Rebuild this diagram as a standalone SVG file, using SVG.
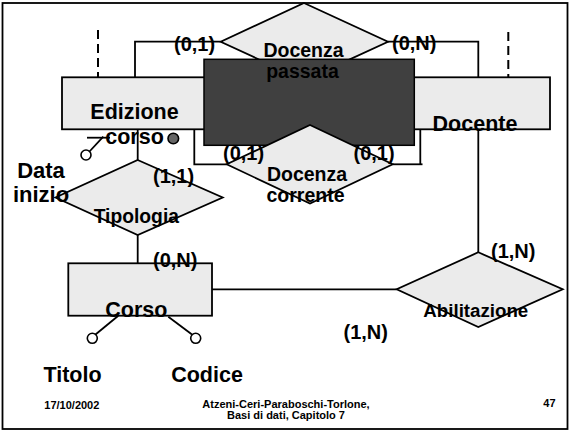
<svg xmlns="http://www.w3.org/2000/svg" width="573" height="432" viewBox="0 0 573 432">
<style>
.t{font-family:"Liberation Sans",Arial,sans-serif;font-weight:bold;fill:#000}
.c{text-anchor:middle}
.ent{fill:#ebebeb;stroke:#000;stroke-width:1.8}
.rel{fill:#ebebeb;stroke:#000;stroke-width:1.8}
.ln{fill:none;stroke:#000;stroke-width:1.8}
.dash{fill:none;stroke:#000;stroke-width:2;stroke-dasharray:9,5}
.att{fill:#fff;stroke:#000;stroke-width:1.6}
.key{fill:#666;stroke:#000;stroke-width:1.6}
.card{font-size:20px}
.big{font-size:21.5px}
.rl{font-size:19.5px}
.ft{font-size:11px}
</style>
<rect x="2.5" y="3" width="565" height="426" fill="#fff" stroke="#000" stroke-width="1.8"/>
<g id="connectors">
<polyline class="ln" points="220.7,41.7 135,41.7 135,77.3"/>
<polyline class="ln" points="388,41.7 478.3,41.7 478.3,77.3"/>
<line class="dash" x1="98" y1="30" x2="98" y2="77"/>
<line class="dash" x1="508.3" y1="32" x2="508.3" y2="77"/>
<polyline class="ln" points="226.7,164.3 194.3,164.3 194.3,129.3"/>
<polyline class="ln" points="392.7,164.3 422.5,164.3"/>
<line class="ln" x1="420.3" y1="129.3" x2="420.3" y2="164.3"/>
<line class="ln" x1="137.7" y1="129.3" x2="137.7" y2="160"/>
<line class="ln" x1="137.7" y1="235" x2="137.7" y2="263.3"/>
<line class="ln" x1="478.3" y1="129.3" x2="478.3" y2="252.3"/>
<line class="ln" x1="212" y1="289.3" x2="396.7" y2="289.3"/>
<line class="ln" x1="87" y1="137.7" x2="110" y2="137.7"/>
<line class="ln" x1="103.3" y1="136.7" x2="89.5" y2="151.5"/>
<line class="ln" x1="118.3" y1="315.7" x2="95.5" y2="334.5"/>
<line class="ln" x1="168.3" y1="316.7" x2="192" y2="334.5"/>
</g>
<g id="edizione_corso">
<rect class="ent" x="62" y="77.3" width="146" height="52"/>
<text class="t c big" x="134.5" y="119">Edizione</text>
<text class="t c big" x="134.5" y="143.5">corso</text>
<circle class="key" cx="173.3" cy="138.5" r="5.3"/>
</g>
<g id="docente">
<rect class="ent" x="400" y="77.3" width="150" height="52"/>
<text class="t c big" x="475" y="130.7">Docente</text>
</g>
<g id="corso">
<rect class="ent" x="68.3" y="263.3" width="143.7" height="52.4"/>
<text class="t c big" x="136.3" y="316.7">Corso</text>
</g>
<g id="docenza_passata">
<polygon class="rel" points="304,3 388,41.7 304,80.4 220.7,41.7"/>
<rect x="204" y="59.3" width="210.3" height="86" fill="#404040" stroke="#000" stroke-width="1.5"/>
<text class="t c rl" x="303.5" y="57.3">Docenza</text>
<text class="t c rl" x="302.5" y="77.7">passata</text>
</g>
<g id="docenza_corrente">
<polygon class="rel" points="310,125 392.7,164.3 310,203.6 226.7,164.3"/>
<text class="t c rl" x="307" y="181">Docenza</text>
<text class="t c rl" x="305.5" y="202.3">corrente</text>
</g>
<g id="tipologia">
<polygon class="rel" points="137.7,160 222.7,197.5 137.7,235 55.5,197.5"/>
<text class="t c" style="font-size:19.3px" x="136.3" y="223.3">Tipologia</text>
</g>
<g id="abilitazione">
<polygon class="rel" points="478.3,252.3 562.7,289.3 478.3,327 396.7,289.3"/>
<text class="t c" style="font-size:18.7px" x="475.8" y="316.7">Abilitazione</text>
</g>
<g id="data_inizio">
<circle class="att" cx="86" cy="155" r="5"/>
<text class="t c" style="font-size:22px" x="41" y="178.3">Data</text>
<text class="t c" style="font-size:22px" x="41" y="201.7">inizio</text>
</g>
<g id="titolo">
<circle class="att" cx="92.3" cy="338.3" r="5"/>
<text class="t c big" x="72.5" y="381.7">Titolo</text>
</g>
<g id="codice">
<circle class="att" cx="195.7" cy="338.3" r="5"/>
<text class="t c big" x="207" y="381.7">Codice</text>
</g>
<g id="cardinalities">
<text class="t card" x="174" y="51">(0,1)</text>
<text class="t card" x="392" y="50">(0,N)</text>
<text class="t card" x="223" y="160">(0,1)</text>
<text class="t card" x="353.5" y="160">(0,1)</text>
<text class="t card" x="153" y="183.3">(1,1)</text>
<text class="t card" x="153" y="266.7">(0,N)</text>
<text class="t card" x="491" y="258.3">(1,N)</text>
<text class="t card" x="343.5" y="339">(1,N)</text>
</g>
<g id="footer">
<text class="t ft" x="44.3" y="409.3">17/10/2002</text>
<text class="t c ft" x="286" y="407.7">Atzeni-Ceri-Paraboschi-Torlone,</text>
<text class="t c ft" x="286" y="419.3">Basi di dati, Capitolo 7</text>
<text class="t ft" x="543.3" y="406.7">47</text>
</g>
</svg>
